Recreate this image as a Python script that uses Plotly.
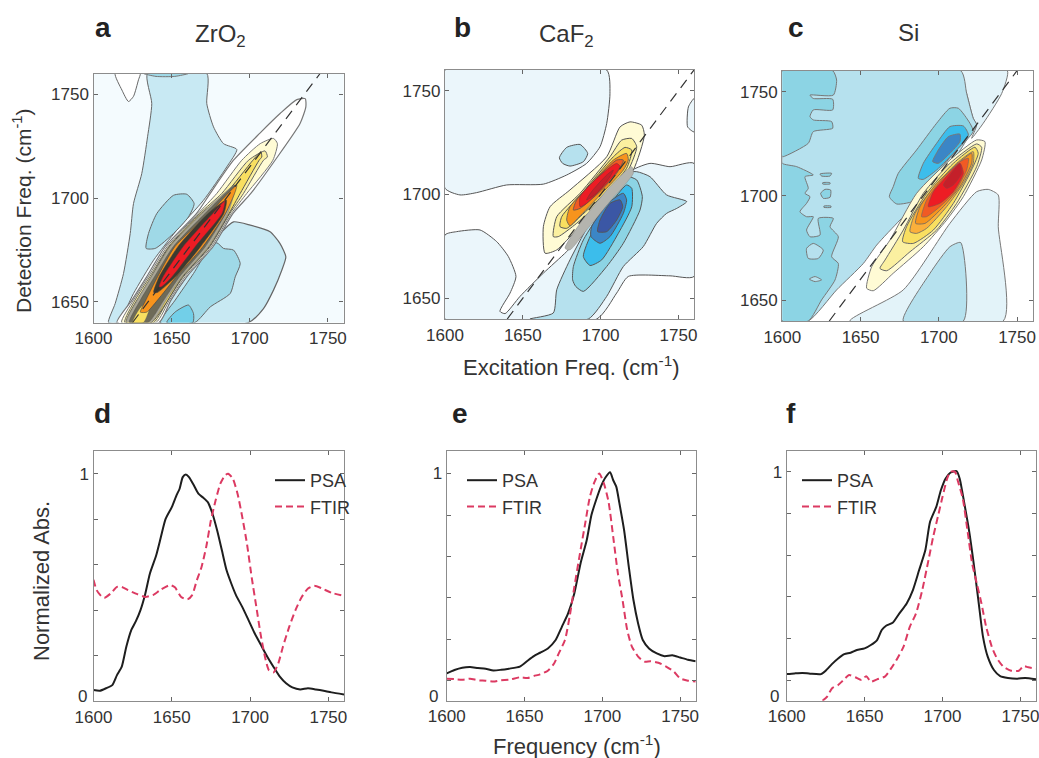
import plotly.graph_objects as go

W, H = 1039, 758
# ---------- palette ----------
PALE, BLUE1, BLUE2, BLUE3 = "#F4FBFE", "#C8E9F3", "#9FD9E7", "#72CFE8"
B_PALE, B_L2, B_L3, B_L4, B_L5, B_L6 = "#EBF6FB", "#B6E1EE", "#8CD4E4", "#3CBDEB", "#3B86C6", "#3B57A5"
Y1, Y2, Y3, Y4, ORANGE, RO, RED, DEEP = "#FFFBD5", "#FBF0A0", "#F9DF60", "#FBB03B", "#F7941D", "#F15A24", "#ED1C24", "#C4202A"

# ---------- panel a contours (excitation, detection) ----------
A_BG = [(1600,1640),(1760,1640),(1760,1760),(1600,1760)]
A_L1_UP = [(1609.6,1640),(1613.9,1649.2),(1619.2,1663.6),(1623.5,1682.9),(1625.6,1697.3),(1630.9,1711.8),(1634.6,1729.5),(1637.3,1745.5),(1634.6,1760),(1672.5,1760),(1672.5,1745.5),(1676.8,1734.3),(1683.2,1726.2),(1691.7,1723.4),(1685.3,1715),(1670.4,1698.9),(1653.3,1684.5),(1638.4,1670),(1625.6,1654),(1616,1640)]
A_TOP = [(1632,1760),(1640,1758.6),(1652,1758.6),(1660.8,1760)]
A_WHITE_TOP = [(1613.9,1760),(1618.2,1752),(1622.4,1746.5),(1625.6,1749),(1628.8,1757),(1629.9,1760)]
A_L2_BLOB = [(1633.7,1675.7),(1635.2,1682.9),(1640.5,1692.5),(1651.2,1701.3),(1659.7,1701.8),(1664.4,1697.3),(1660.8,1690.9),(1651.2,1682.9),(1639.5,1675.7)]
A_L1_LOW = [(1642.7,1640),(1664,1666.8),(1681.1,1682.9),(1689.6,1688.5),(1700.3,1686.9),(1713,1683.7),(1719.4,1678),(1723.1,1671.6),(1720.5,1665.2),(1715.2,1655.6),(1708.8,1646.7),(1699.2,1640)]
A_L2_LOW = [(1642.7,1640),(1652.3,1650.8),(1664,1663.6),(1672.5,1674),(1678.9,1678.4),(1683.2,1675.7),(1689.6,1674.9),(1693.9,1668.4),(1690.7,1662),(1687.5,1654),(1674.7,1647.5),(1664.9,1640)]
A_L3_LOW = [(1646.9,1640),(1652.3,1645.1),(1660.8,1648.4),(1664,1644.3),(1663.6,1640)]
A_W = [(1615,1640),(1624.6,1650.8),(1634,1662),(1645.8,1676.5),(1666,1692.6),(1674.7,1702.2),(1689.6,1718.2),(1706.7,1731.4),(1719.4,1740.7),(1730.1,1747.4),(1735.5,1747.9),(1735.9,1743.9),(1732.2,1735.9),(1716.2,1718.2),(1700.7,1702.2),(1689.3,1692.6),(1676.5,1676.5),(1659.6,1662),(1649.6,1650.8),(1642,1640)]
A_P1 = [(1618,1640),(1625.6,1650.8),(1635,1662),(1647,1676.5),(1667,1692.6),(1678.9,1702.2),(1694.9,1718.2),(1706.7,1726.2),(1715.2,1728.7),(1717.7,1726.2),(1714.8,1718.2),(1698.1,1702.2),(1688.3,1692.6),(1675.5,1676.5),(1658.5,1662),(1648.6,1650.8),(1640,1640)]
A_P2 = [(1620,1640),(1626.6,1650.8),(1636,1662),(1648,1676.5),(1668,1692.6),(1682.1,1702.2),(1699.2,1718.2),(1709.8,1722.7),(1711.3,1719.8),(1708.8,1718.2),(1696,1702.2),(1687.3,1692.6),(1674.5,1676.5),(1657.5,1662),(1647.6,1650.8),(1638.5,1640)]
A_P3 = [(1621,1640),(1637,1662),(1648.5,1676.5),(1669,1692.6),(1684.7,1702.2),(1702,1718.2),(1707.1,1722.2),(1707.7,1719.8),(1706,1718.2),(1693.9,1702.2),(1686.8,1692.6),(1674,1676.5),(1657,1662),(1637,1640)]
A_D0 = [(1621,1640),(1628,1650.8),(1637,1662),(1649,1676.5),(1669.5,1692.6),(1690.7,1706.2),(1686,1692.6),(1673.5,1676.5),(1656.5,1662),(1646.5,1650.8),(1637,1640)]
A_D1 = [(1623,1640),(1630,1650.8),(1639,1662),(1651,1676.5),(1671.5,1692.6),(1690.7,1706.2),(1684.5,1692.6),(1671.5,1676.5),(1655,1662),(1645,1650.8),(1635,1640)]
A_YC = [(1625,1640),(1631,1648),(1636,1648),(1632,1640)]
A_O = [(1630,1645),(1633.5,1650.8),(1641,1662),(1652,1676.5),(1674,1692.6),(1691.7,1706.2),(1690.7,1703),(1684.5,1692.6),(1670,1676.5),(1653,1662),(1641,1650.8),(1634,1645)]
A_D2 = [(1638.5,1654.5),(1642,1662),(1654,1676.5),(1673.5,1692.6),(1685,1699),(1683.5,1692.6),(1668.5,1676.5),(1652.5,1662),(1641,1654.5)]
A_R = [(1642,1657.2),(1644.5,1662),(1657.3,1676.5),(1676.5,1692.6),(1684,1698.5),(1682.3,1692.6),(1665,1676.5),(1650.2,1662),(1643.5,1657.2)]
A_DIAG = [(1625,1640),(1745,1760)]

# ---------- panel b contours ----------
B_UPPER = [(1600,1760),(1703.9,1760),(1706,1748.6),(1703.9,1734.2),(1699.6,1723),(1691,1715),(1678.2,1709.4),(1663.2,1705),(1639.6,1704.6),(1620.3,1700.9),(1609.6,1699.8),(1600,1703)]
B_LOWER = [(1600,1680.5),(1607.5,1682.1),(1622.5,1682.9),(1633.2,1677.3),(1640.7,1670.1),(1645.6,1660.5),(1641.8,1652.5),(1635.3,1643.7),(1638.6,1642.6),(1648.2,1650.9),(1663.2,1662.1),(1678.2,1672.5),(1693.2,1684.5),(1716.7,1710.2),(1731.7,1715),(1744.6,1713.4),(1760,1715),(1760,1660.5),(1744.6,1660.8),(1717.8,1660.5),(1710.3,1652.5),(1697.5,1640),(1600,1640)]
B_RIGHT = [(1760,1746.2),(1756.4,1742.2),(1755.9,1732.6),(1760,1730.2)]
B_2 = [(1654.6,1640),(1669.6,1642.9),(1671.8,1654.1),(1680.3,1668.5),(1695.3,1689.3),(1714.6,1710.2),(1723.2,1711),(1731.7,1708.6),(1742.4,1699.8),(1755.3,1696.6),(1748.9,1693.3),(1742.4,1690.9),(1736,1686.1),(1727.4,1674.9),(1714.6,1665.3),(1703.9,1650.9),(1692.1,1640)]
B_BLOB = [(1673.5,1717.7),(1678.2,1722.7),(1686.8,1724.1),(1691.7,1719.8),(1688.9,1715.8),(1680.3,1713.7),(1675.6,1715)]
B_3 = [(1682,1658.9),(1682.5,1665.3),(1688.9,1678.1),(1703.9,1695.7),(1716.7,1708.6),(1723.2,1707),(1726.8,1699),(1725.3,1692.5),(1714.6,1676.5),(1703.9,1665.3),(1688.9,1653.3),(1684,1655.7)]
B_4 = [(1688.9,1670.1),(1694.2,1681.3),(1708.2,1697.4),(1716.7,1704.6),(1720,1703),(1720,1694.1),(1711.4,1681.3),(1700.7,1668.5),(1693.2,1665.8)]
B_5 = [(1693.8,1679.7),(1694.2,1684.5),(1706,1696.6),(1714.6,1700.6),(1716.7,1697.4),(1714.6,1690.9),(1706,1679.7),(1699.6,1676.5)]
B_6 = [(1698.1,1682.1),(1699.6,1687.7),(1706,1695.7),(1712.5,1697.4),(1714.2,1694.1),(1710.3,1687.7),(1703.9,1682.1)]
B_Y1 = [(1664.3,1671.7),(1663.2,1684.5),(1667.5,1694.1),(1680.3,1702.2),(1703.9,1718.2),(1712.5,1732.6),(1718.9,1735),(1726.4,1733.4),(1728.1,1728.6),(1721,1711.8),(1706,1697.4),(1684.6,1682.9),(1671.8,1673.3)]
B_Y2 = [(1669.6,1679.7),(1671.8,1689.3),(1686.8,1700.6),(1706,1718.2),(1713.5,1726.2),(1720,1727),(1723.2,1723),(1717.8,1711.8),(1703.9,1699),(1684.6,1686.1),(1672.8,1679.7)]
B_Y3 = [(1673.9,1684.5),(1675,1689.3),(1688.9,1701.4),(1708.2,1718.2),(1715.7,1722.7),(1720,1721.4),(1716.7,1712.6),(1703.9,1701.4),(1686.8,1689.3),(1678.2,1683.7)]
B_GRAY = [(1677.1,1674.1),(1686.8,1686.1),(1706,1703.8),(1720,1713.4),(1721,1710.2),(1706,1696.6),(1691,1682.9),(1680.3,1673.3)]
B_O = [(1678.2,1687.7),(1680.3,1694.1),(1693.2,1704.6),(1708.2,1716.6),(1716.7,1719.8),(1717.8,1716.6),(1714.6,1711.8),(1703.9,1703),(1686.8,1689.7),(1680.3,1684.9)]
B_RO = [(1682.5,1692.5),(1684.6,1697.4),(1697.5,1707.8),(1710.3,1716.6),(1714.6,1716.6),(1710.3,1710.2),(1699.6,1701.4),(1686.8,1693.3)]
B_R = [(1686.8,1694.1),(1686.8,1699),(1697.5,1707.8),(1710.3,1715),(1712.5,1713.4),(1703.9,1705.4),(1691,1695.7)]
B_DEEP = [(1691,1697.4),(1694.2,1701.4),(1703.9,1709.4),(1708.2,1711.8),(1706,1708.6),(1697.5,1700.6)]
B_DIAG = [(1640,1640),(1760,1760)]

# ---------- panel c contours ----------
C_0_LOW = [(1643.2,1640),(1677.3,1654.9),(1707.1,1686.8),(1724.2,1702),(1731.6,1703.1),(1738,1700.4),(1738,1685.2),(1741.2,1640)]
C_0_TOP = [(1714,1760),(1717.8,1749.1),(1722,1737.2),(1724.2,1734),(1721,1727.6),(1728.4,1734.8),(1740.2,1749.1),(1743.8,1760)]
C_1 = [(1600,1760),(1714,1760),(1717.8,1749.1),(1722,1737.2),(1724.2,1734),(1717.8,1726.8),(1698.6,1704.4),(1685.8,1696.4),(1675.2,1688.4),(1660.3,1676.4),(1651.8,1667.6),(1634.7,1654.9),(1616.6,1640),(1600,1640)]
C_2 = [(1600,1760),(1632.2,1760),(1634.7,1755.5),(1632.6,1748.3),(1617.7,1748.3),(1619.8,1746.7),(1632.2,1746.3),(1632.2,1741.2),(1619.8,1741.2),(1617.7,1738),(1619.8,1736.4),(1631.5,1735.6),(1632.2,1732.4),(1619.8,1730.8),(1616.6,1725.2),(1600.6,1718.8),(1600,1719.1),(1600,1715.6),(1609.2,1714),(1619.8,1710),(1614.5,1709.2),(1616.6,1703.6),(1614.5,1701.2),(1617.7,1699.6),(1615.5,1696.4),(1611.3,1692.4),(1615.5,1690),(1619.8,1690),(1615.5,1683.6),(1617.7,1680.4),(1624.1,1681.2),(1623,1689.2),(1632.6,1689.2),(1630.5,1685.2),(1635.8,1680.4),(1631.5,1670.8),(1635.8,1667.6),(1633.7,1659.7),(1625.1,1650.1),(1616.6,1640),(1600,1640)]
C_HOLE1 = [(1615.5,1674.8),(1619.8,1677.2),(1626.2,1674),(1623,1670),(1616.6,1670)]
C_HOLE2 = [(1617.3,1660.1),(1620.9,1661.3),(1625.1,1659.7),(1620.9,1658.9)]
C_ISL1 = [(1624.1,1710.5),(1631.5,1710.8),(1630.5,1709.5),(1625.1,1709.5)]
C_ISL2 = [(1625.8,1706.3),(1630.5,1706.3),(1630.5,1705.7),(1625.8,1705.7)]
C_ISL3 = [(1624.5,1701.2),(1627.3,1703.1),(1630.9,1702.8),(1630.5,1699.3),(1626.2,1698.8)]
C_ISL4 = [(1626.6,1695.1),(1631.1,1695.1),(1631.1,1694.5),(1626.6,1694.5)]
C_UP2 = [(1668.4,1699.6),(1670.9,1704.4),(1674.1,1710.8),(1685.8,1722),(1698.6,1734.8),(1707.1,1742),(1712.5,1742),(1719.9,1734.8),(1722,1730.8),(1711.4,1722),(1698.6,1710.8),(1685.8,1698),(1673.1,1696.1)]
C_UP3 = [(1686.9,1708.4),(1690.1,1715.6),(1698.6,1725.2),(1707.1,1733.2),(1715.7,1733.5),(1718.9,1729.2),(1711.4,1722),(1698.6,1712.4),(1690.1,1707.9)]
C_UP4 = [(1696.1,1716.4),(1699.7,1722),(1706.1,1728.4),(1713.5,1729.6),(1713.5,1726),(1707.1,1720.4),(1699.7,1715.6)]
C_LOW = [(1677.3,1640),(1694.4,1662.9),(1707.1,1675.6),(1714,1677.6),(1715.7,1640)]
C_Y1 = [(1653.9,1655.7),(1657.1,1666),(1668.8,1678.8),(1685.8,1701.2),(1707.1,1717.2),(1724.2,1726.8),(1729.5,1726),(1727.4,1717.2),(1715.7,1699.6),(1705,1688.4),(1690.1,1675.6),(1670.9,1662.9),(1658.1,1654.5)]
C_Y2 = [(1662.4,1665.2),(1665.6,1669.2),(1677.3,1683.6),(1690.1,1701.2),(1707.1,1715.6),(1724.2,1724.9),(1727.4,1723.3),(1724.2,1714),(1711.4,1696.4),(1698.6,1683.6),(1681.6,1673.2),(1666.7,1664.1)]
C_Y3 = [(1676.9,1678),(1679.4,1685.2),(1692.2,1701.2),(1709.3,1715.6),(1723.1,1723.3),(1725.2,1720.4),(1719.9,1710.8),(1709.3,1696.4),(1696.5,1683.6),(1683.7,1677.2)]
C_Y4 = [(1681.6,1682.8),(1684.8,1691.6),(1695.4,1702.8),(1711.4,1715.6),(1722,1721.2),(1722,1715.6),(1715.7,1706),(1705,1694.8),(1692.2,1684.4),(1685.8,1682)]
C_O = [(1685.2,1686.8),(1688,1694.8),(1698.6,1706),(1712.5,1715.6),(1721,1720.4),(1721,1715.6),(1713.5,1704.4),(1702.9,1694.8),(1691.2,1686.8)]
C_RO = [(1689,1690),(1692.2,1698),(1700.7,1706.8),(1713.5,1716.4),(1718.9,1718),(1717.8,1712.4),(1710.3,1702),(1700.7,1694.8),(1692.2,1690)]
C_R = [(1693.3,1694.8),(1696.5,1702),(1702.9,1707.6),(1713.5,1715.6),(1715.7,1710.8),(1709.3,1702),(1700.7,1696.4)]
C_DEEP = [(1702.9,1705.2),(1707.1,1710),(1713.5,1715.6),(1714.6,1710.8),(1709.3,1705.2),(1705,1703.6)]
C_DIAG = [(1630,1640),(1750,1760)]

# ---------- spectra ----------
D_PSA_X = [1600,1604,1608,1612,1615,1618,1621,1624,1627,1630,1633,1636,1640,1643,1646,1650,1653,1655,1657,1659,1661,1664,1667,1670,1673,1676,1679,1682,1685,1688,1691,1695,1699,1703,1707,1711,1715,1719,1723,1727,1732,1737,1742,1747,1752,1760]
D_PSA_Y = [.048,.045,.056,.07,.114,.15,.24,.31,.35,.40,.47,.56,.64,.72,.80,.853,.905,.934,.985,.997,.985,.95,.912,.895,.875,.824,.75,.663,.575,.517,.466,.414,.356,.297,.246,.195,.15,.107,.078,.06,.051,.056,.051,.045,.038,.029]
D_FTIR_X = [1600,1602,1605,1607,1611,1615,1618,1622,1628,1633,1638,1643,1649,1652,1656,1660,1663,1666,1669,1672,1675,1678,1681,1684,1686,1689,1692,1695,1698,1701,1704,1707,1710,1712,1715,1718,1721,1725,1729,1733,1737,1741,1746,1752,1760]
D_FTIR_Y = [.534,.488,.461,.454,.473,.502,.502,.488,.47,.458,.466,.49,.51,.5,.458,.447,.466,.531,.59,.678,.795,.883,.956,.993,1.0,.978,.912,.81,.693,.546,.414,.283,.18,.136,.126,.165,.239,.326,.40,.458,.495,.507,.495,.476,.463]

E_PSA_X = [1600,1605,1610,1615,1620,1625,1630,1635,1640,1647,1652,1656,1660,1665,1670,1674,1678,1682,1686,1690,1693,1696,1699,1702,1705,1707,1709,1711,1714,1717,1720,1723,1726,1730,1735,1740,1745,1750,1755,1760]
E_PSA_Y = [.12,.135,.145,.148,.144,.141,.133,.136,.141,.15,.176,.196,.211,.23,.267,.325,.384,.472,.604,.707,.817,.883,.941,.982,1.005,.97,.941,.868,.75,.59,.443,.34,.267,.23,.208,.196,.2,.19,.18,.174]
E_FTIR_X = [1600,1605,1610,1615,1620,1625,1630,1635,1640,1647,1652,1656,1660,1665,1669,1672,1676,1679,1682,1686,1689,1692,1695,1698,1701,1704,1707,1710,1713,1716,1719,1723,1727,1731,1736,1741,1746,1750,1755,1760]
E_FTIR_Y = [.097,.095,.092,.097,.09,.088,.084,.09,.092,.103,.1,.109,.116,.132,.164,.208,.267,.37,.50,.663,.78,.897,.963,1.0,.956,.875,.721,.56,.443,.311,.238,.194,.172,.174,.167,.15,.128,.098,.088,.085]

F_PSA_X = [1600,1605,1610,1615,1622,1625,1629,1633,1637,1641,1645,1650,1654,1658,1661,1664,1668,1672,1677,1681,1685,1689,1692,1696,1699,1702,1705,1709,1711,1714,1717,1720,1723,1726,1729,1733,1737,1742,1748,1753,1760]
F_PSA_Y = [.117,.12,.122,.119,.117,.132,.161,.186,.205,.211,.223,.23,.245,.267,.311,.331,.343,.381,.428,.487,.575,.663,.787,.853,.927,.978,1.003,1.01,.978,.868,.75,.604,.443,.281,.194,.135,.108,.1,.097,.1,.094]
F_FTIR_X = [1623,1626,1629,1633,1636,1640,1644,1648,1651,1654,1658,1663,1667,1671,1675,1679,1683,1687,1691,1694,1697,1700,1703,1705,1708,1710,1713,1716,1719,1722,1725,1728,1732,1735,1739,1744,1749,1752,1755,1760]
F_FTIR_Y = [0,.018,.054,.069,.088,.113,.103,.091,.108,.084,.094,.106,.142,.186,.238,.325,.384,.487,.619,.721,.809,.897,.978,1.007,1.007,.963,.89,.75,.604,.516,.428,.325,.23,.186,.15,.132,.132,.152,.147,.141]

X_TICKS = [1600, 1650, 1700, 1750]
Y_TICKS = [1650, 1700, 1750]
D_TICKS = [1, .8, .6, .4, .2]
E_TICKS = [1, .817, .636, .452, .27, .088]
F_TICKS = [1.007, .824, .641, .458, .274, .091]
TICK_LABELS_SPEC = ["1", "", "", "", "", ""]

# ---------- layers: (polygon, fill, line colour, line width) ----------
LN = "#555555"
A_LAYERS = [(A_BG, PALE, None, 0), (A_L1_UP, BLUE1, "#666", 1), (A_TOP, BLUE2, "#777", 1), (A_WHITE_TOP, "#FFFFFF", "#666", 1),
            (A_L2_BLOB, BLUE2, "#666", 1), (A_L1_LOW, BLUE1, "#666", 1.2), (A_L2_LOW, BLUE2, "#666", 1), (A_L3_LOW, BLUE3, "#666", 1),
            (A_W, "#FFFFFF", "#777", 1.2), (A_P1, Y1, "#777", 1), (A_P2, Y2, "#666", 1), (A_P3, Y3, "#555", 1),
            (A_D0, "#A9A695", "#777", .5), (A_D1, "#6E6B58", "#555", .5), (A_YC, Y3, "#555", .4), (A_O, ORANGE, "#444", .6),
            (A_D2, "#3C3A30", "#444", .5), (A_R, RED, "#733", .5)]
B_LAYERS = [(B_UPPER, B_PALE, LN, 1), (B_LOWER, B_PALE, LN, 1), (B_RIGHT, B_PALE, LN, 1), (B_2, B_L2, LN, 1), (B_BLOB, B_L2, LN, 1),
            (B_3, B_L3, LN, 1), (B_4, B_L4, LN, 1), (B_5, B_L5, LN, 1), (B_6, B_L6, LN, 1),
            (B_Y1, Y1, LN, 1), (B_Y2, Y2, LN, 1), (B_Y3, Y3, LN, 1), (B_GRAY, "#B4B4AE", "#888", .5),
            (B_O, ORANGE, LN, .8), (B_RO, RO, LN, .8), (B_R, RED, "#733", .6), (B_DEEP, DEEP, "#733", .5)]
C_LAYERS = [(C_0_LOW, "#E3F3F9", "#777", 1), (C_0_TOP, "#E3F3F9", "#777", 1), (C_1, B_L2, "#777", 1), (C_2, B_L3, "#777", 1),
            (C_HOLE1, B_L2, "#777", 1), (C_HOLE2, B_L2, "#777", 1), (C_ISL1, B_L3, "#777", 1), (C_ISL2, B_L3, "#777", 1),
            (C_ISL3, B_L3, "#777", 1), (C_ISL4, B_L3, "#777", 1), (C_LOW, B_L2, "#777", 1),
            (C_UP2, B_L3, "#777", 1), (C_UP3, B_L4, "#777", 1), (C_UP4, B_L5, "#777", 1),
            (C_Y1, Y1, "#777", 1), (C_Y2, Y2, "#666", 1), (C_Y3, Y3, "#666", 1), (C_Y4, Y4, "#666", .8),
            (C_O, ORANGE, "#666", .8), (C_RO, RO, "#666", .6), (C_R, RED, "#844", .6), (C_DEEP, DEEP, "#844", .5)]

# panel boxes in figure fractions
BOXES = {
    "a": (93.5, 343.5, 73.5, 322.5), "b": (445, 694, 70, 319), "c": (782.3, 1032.7, 70.7, 321),
    "d": (93.5, 344, 451, 701), "e": (446.7, 695.7, 450.7, 700.7), "f": (786.7, 1036, 450.7, 700.7),
}
NAMES = list(BOXES)
fig = go.Figure()
axis_style = dict(showgrid=False, zeroline=False, showline=True, linecolor="#8C8C8C", linewidth=1.3, mirror="ticks",
                  ticks="inside", ticklen=4, tickcolor="#666", tickwidth=1, ticklabeloverflow="allow",
                  tickfont=dict(family="Liberation Sans", size=17, color="#333333"))
layout = {}
for i, n in enumerate(NAMES):
    l, r, t, b = BOXES[n]
    s = "" if i == 0 else str(i + 1)
    layout["xaxis" + s] = dict(axis_style, domain=[l / W, r / W], range=[1600, 1760], tickvals=X_TICKS, anchor="y" + s)
    if i < 3:
        layout["yaxis" + s] = dict(axis_style, domain=[1 - b / H, 1 - t / H], range=[1640, 1760], tickvals=Y_TICKS, anchor="x" + s)
    else:
        tv = {"d": D_TICKS, "e": E_TICKS, "f": F_TICKS}[n]
        layout["yaxis" + s] = dict(axis_style, domain=[1 - b / H, 1 - t / H], range=[0, 1.1], tickvals=tv,
                                   ticktext=TICK_LABELS_SPEC[:len(tv)], anchor="x" + s)

def add_layers(layers, ax):
    for poly, fill, col, w in layers:
        xs = [p[0] for p in poly] + [poly[0][0]]
        ys = [p[1] for p in poly] + [poly[0][1]]
        fig.add_trace(go.Scatter(x=xs, y=ys, mode="lines", fill="toself", fillcolor=fill, hoverinfo="skip",
                                 line=dict(color=col or fill, width=w or 0, shape="spline", smoothing=0.6),
                                 showlegend=False, xaxis="x" + ax, yaxis="y" + ax))

def add_diag(pts, ax):
    fig.add_trace(go.Scatter(x=[p[0] for p in pts], y=[p[1] for p in pts], mode="lines", showlegend=False, hoverinfo="skip",
                             line=dict(color="#333333", width=1.2, dash="10px,7px"), xaxis="x" + ax, yaxis="y" + ax))

add_layers(A_LAYERS, ""); add_diag(A_DIAG, "")
add_layers(B_LAYERS, "2"); add_diag(B_DIAG, "2")
add_layers(C_LAYERS, "3"); add_diag(C_DIAG, "3")

def add_spec(px, py, fx, fy, ax, leg):
    fig.add_trace(go.Scatter(x=px, y=py, mode="lines", name="PSA", legend=leg,
                             line=dict(color="#1E1E1E", width=2, shape="spline", smoothing=0.6), xaxis="x" + ax, yaxis="y" + ax))
    fig.add_trace(go.Scatter(x=fx, y=fy, mode="lines", name="FTIR", legend=leg,
                             line=dict(color="#DC3A62", width=2, dash="7px,4px", shape="spline", smoothing=0.6), xaxis="x" + ax, yaxis="y" + ax))

add_spec(D_PSA_X, D_PSA_Y, D_FTIR_X, D_FTIR_Y, "4", "legend")
add_spec(E_PSA_X, E_PSA_Y, E_FTIR_X, E_FTIR_Y, "5", "legend2")
add_spec(F_PSA_X, F_PSA_Y, F_FTIR_X, F_FTIR_Y, "6", "legend3")

leg_style = dict(bgcolor="rgba(0,0,0,0)", borderwidth=0, font=dict(family="Liberation Sans", size=18, color="#333333"),
                 xanchor="left", yanchor="top", tracegroupgap=0, itemwidth=30)
LEG_POS = {"legend": (270, 462), "legend2": (462, 462), "legend3": (797, 462)}
for k, (px_, py_) in LEG_POS.items():
    layout[k] = dict(leg_style, x=px_ / W, y=1 - py_ / H)

def txt(s, x, y, size, bold=False, angle=0):
    return dict(text=f"<b>{s}</b>" if bold else s, x=x / W, y=1 - y / H, xref="paper", yref="paper", showarrow=False,
                xanchor="center", yanchor="middle", textangle=angle,
                font=dict(family="Liberation Sans", size=size, color="#222222" if bold else "#333333"))

annots = [txt("a", 103, 27, 28, True), txt("b", 462, 27, 28, True), txt("c", 796, 27, 28, True),
          txt("d", 102, 413, 28, True), txt("e", 460, 413, 28, True), txt("f", 791, 413, 28, True),
          txt("ZrO<sub>2</sub>", 220, 35, 24), txt("CaF<sub>2</sub>", 566, 35, 24), txt("Si", 908, 32, 24),
          txt("Excitation Freq. (cm<sup>-1</sup>)", 571, 366, 22), txt("Frequency (cm<sup>-1</sup>)", 577, 745, 22),
          txt("Detection Freq. (cm<sup>-1</sup>)", 22, 211, 21, angle=-90), txt("Normalized Abs.", 41, 581, 22, angle=-90),
          txt("0", 82, 696, 17), txt("0", 433, 696, 17), txt("0", 774, 696, 17)]

fig.update_layout(width=W, height=H, margin=dict(l=0, r=0, t=0, b=0, autoexpand=False), paper_bgcolor="white", plot_bgcolor="white",
                  annotations=annots, hovermode=False, **layout)
fig.write_html("out.html", config={"displayModeBar": False}, post_script="document.body.style.margin='0';")
